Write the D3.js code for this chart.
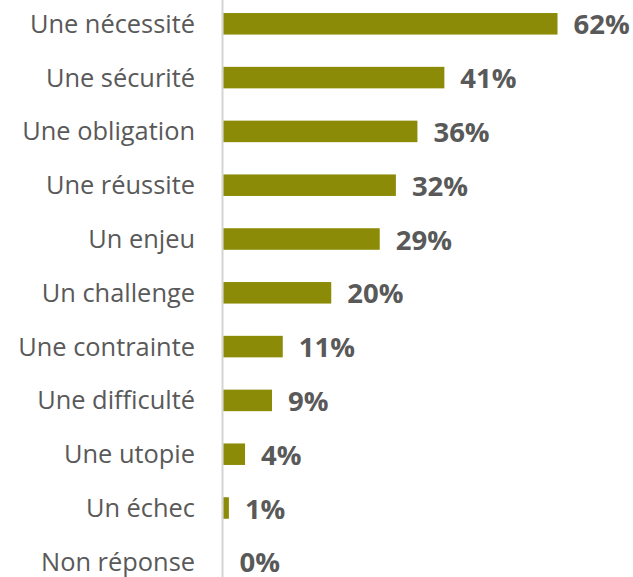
<!DOCTYPE html>
<html>
<head>
<meta charset="utf-8">
<script src="https://cdn.jsdelivr.net/npm/d3@7"></script>
<style>
  body { margin: 0; background: #fff; }
  text { font-family: "Open Sans", sans-serif; }
</style>
</head>
<body>
<svg width="633" height="577"></svg>
<script>
const categories = ['Une nécessité', 'Une sécurité', 'Une obligation', 'Une réussite', 'Un enjeu',
  'Un challenge', 'Une contrainte', 'Une difficulté', 'Une utopie', 'Un échec', 'Non réponse']
const values = [62, 41, 36, 32, 29, 20, 11, 9, 4, 1, 0]

const svg = d3.select('svg')
const width  = +svg.attr('width')
const height = +svg.attr('height')

const x = d3.scaleLinear().domain([0, 62]).range([223.5, 557.5])
const y = d3.scaleBand().domain(categories).range([-3.1, 588.7]).paddingInner(0.6).paddingOuter(0.3)

// vertical axis line
svg.append('line')
  .attr('x1', 222.5).attr('x2', 222.5)
  .attr('y1', 0).attr('y2', height)
  .attr('stroke', '#d4d4d4')
  .attr('stroke-width', 2)

svg.selectAll('rect.bar')
  .data(values)
  .join('rect')
  .attr('class', 'bar')
  .attr('x', x(0))
  .attr('y', (d, i) => y(categories[i]))
  .attr('width', d => x(d) - x(0))
  .attr('height', y.bandwidth())
  .attr('fill', '#8b8b07')

svg.selectAll('text.cat')
  .data(categories)
  .join('text')
  .attr('class', 'cat')
  .attr('x', 195)
  .attr('y', d => y(d) + y.bandwidth() / 2)
  .attr('dy', 9)
  .attr('text-anchor', 'end')
  .attr('font-size', 25.4)
  .attr('fill', '#595959')
  .text(d => d)

svg.selectAll('text.val')
  .data(values)
  .join('text')
  .attr('class', 'val')
  .attr('x', d => x(d) + 16)
  .attr('y', (d, i) => y(categories[i]) + y.bandwidth() / 2)
  .attr('dy', 10.5)
  .attr('font-size', 27.5)
  .attr('font-weight', 'bold')
  .attr('fill', '#595959')
  .text(d => d + '%')
</script>
</body>
</html>
